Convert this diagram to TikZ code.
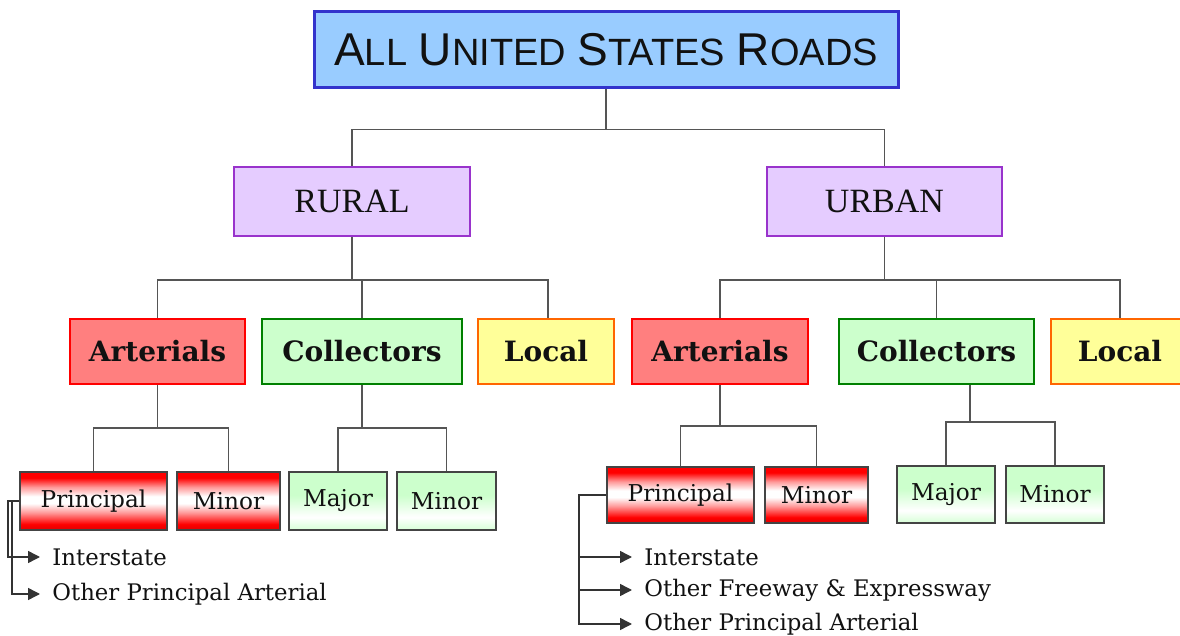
\documentclass[tikz,border=0pt]{standalone}
\usepackage{fontspec}
\setmainfont{DejaVu Serif}
\newfontfamily\titlefont{Liberation Sans}
\newfontfamily\rufont{Liberation Serif}
\usetikzlibrary{arrows.meta}
\definecolor{titleblue}{HTML}{99CCFF}
\definecolor{titleborder}{HTML}{3333CC}
\definecolor{areafill}{HTML}{E5CCFF}
\definecolor{areaborder}{HTML}{9933CC}
\definecolor{artfill}{HTML}{FF7F7F}
\definecolor{colfill}{HTML}{CCFFCC}
\definecolor{colborder}{HTML}{008000}
\definecolor{locfill}{HTML}{FFFF99}
\definecolor{locborder}{HTML}{FF6600}
\definecolor{linegray}{HTML}{555555}
\definecolor{arrgray}{HTML}{333333}
\definecolor{subborder}{HTML}{444444}
\definecolor{txt}{HTML}{111111}
\definecolor{deepred}{HTML}{E00000}
\pgfdeclareverticalshading{redband}{100bp}{color(0bp)=(deepred); color(25bp)=(deepred); color(30bp)=(red); color(40bp)=(red!40!white); color(48bp)=(white); color(54bp)=(white); color(62bp)=(red!40!white); color(70bp)=(red); color(100bp)=(red)}
\pgfdeclareverticalshading{greenband}{100bp}{color(0bp)=(colfill!80!white); color(25bp)=(colfill!80!white); color(36bp)=(white); color(55bp)=(colfill); color(100bp)=(colfill)}
\newcommand\TBig[1]{{\fontsize{23}{26}\selectfont #1}}
\newcommand\TSmall[1]{{\fontsize{19}{22}\selectfont #1}}
\begin{document}
\begin{tikzpicture}[x=0.5pt,y=-0.5pt,
  tree/.style={draw=linegray, line width=0.75pt},
  arr/.style={draw=arrgray, line width=0.75pt, -{Triangle[length=6pt,width=6pt]}},
  box/.style={rectangle, inner sep=0pt, align=center, text=txt},
  topbox/.style={box, fill=titleblue, draw=titleborder, line width=1.5pt, minimum width=292pt, minimum height=38pt, font=\titlefont\fontsize{21}{24}\selectfont},
  area/.style={box, fill=areafill, draw=areaborder, line width=1.2pt, minimum width=118pt, minimum height=34.5pt, font=\rufont\fontsize{17}{20}\selectfont},
  cat/.style={box, line width=1.2pt, minimum height=32.5pt, font=\bfseries\fontsize{14}{16}\selectfont},
  art/.style={cat, fill=artfill, draw=red},
  col/.style={cat, fill=colfill, draw=colborder},
  loc/.style={cat, fill=locfill, draw=locborder},
  sub/.style={box, draw=subborder, line width=1pt, minimum height=29pt, font=\fontsize{11.6}{13}\selectfont},
  redsub/.style={sub, shading=redband},
  greensub/.style={sub, shading=greenband},
  item/.style={anchor=west, inner xsep=6pt, inner ysep=0pt, text=txt, font=\fontsize{11.4}{13}\selectfont}
]
\useasboundingbox (0,0) rectangle (1180,636);
\clip (0,0) rectangle (1180,636);

\node[topbox] (root) at (606,50) {\TBig{A}\TSmall{LL} \TBig{U}\TSmall{NITED} \TBig{S}\TSmall{TATES} \TBig{R}\TSmall{OADS}};

\node[area] (rural) at (352,201.5) {RURAL};
\node[area, minimum width=117.5pt] (urban) at (884.5,201.5) {URBAN};

\node[art, minimum width=87.5pt] (rart) at (157.5,351.5) {Arterials};
\node[col, minimum width=100pt] (rcol) at (362,351.5) {Collectors};
\node[loc, minimum width=68pt] (rloc) at (546,351.5) {Local};
\node[art, minimum width=88pt] (uart) at (720,351.5) {Arterials};
\node[col, minimum width=97.5pt] (ucol) at (936.5,351.5) {Collectors};
\node[loc, minimum width=69pt] (uloc) at (1120,351.5) {Local};

\node[redsub, minimum width=73.5pt] (rprin) at (93.5,501) {Principal};
\node[redsub, minimum width=51.5pt] (rmin) at (228.5,501) {Minor};
\node[greensub, minimum width=49pt] (rmaj) at (338,501) {Major};
\node[greensub, minimum width=49.5pt] (rmin2) at (446.5,501) {Minor};

\node[redsub, minimum width=73.5pt, minimum height=28pt] (uprin) at (680.5,495) {Principal};
\node[redsub, minimum width=51.5pt, minimum height=28pt] (umin) at (816.5,495) {Minor};
\node[greensub, minimum width=49pt, minimum height=28.5pt] (umaj) at (946,494.5) {Major};
\node[greensub, minimum width=49pt, minimum height=28.5pt] (umin2) at (1055,494.5) {Minor};

\node[item] (rint) at (40,557) {Interstate};
\node[item] (roth) at (40,594) {Other Principal Arterial};
\node[item] (uint) at (632,557) {Interstate};
\node[item] (ufwy) at (632,590) {Other Freeway \& Expressway};
\node[item] (uoth) at (632,624) {Other Principal Arterial};

\draw[tree] (root.south) -- ++(0,40) -| (rural.north);
\draw[tree] (root.south) -- ++(0,40) -| (urban.north);

\draw[tree] (rural.south) -- ++(0,43) -| (rart.north);
\draw[tree] (rural.south) -- ++(0,43) -| (rcol.north);
\draw[tree] (rural.south) -- ++(0,43) -| ([xshift=1pt]rloc.north);
\draw[tree] (urban.south) -- ++(0,43) -| (uart.north);
\draw[tree] (urban.south) -- ++(0,43) -| (ucol.north);
\draw[tree] (urban.south) -- ++(0,43) -| (uloc.north);

\draw[tree] (rart.south) -- ++(0,43) -| (rprin.north);
\draw[tree] (rart.south) -- ++(0,43) -| (rmin.north);
\draw[tree] (rcol.south) -- ++(0,43) -| (rmaj.north);
\draw[tree] (rcol.south) -- ++(0,43) -| (rmin2.north);
\draw[tree] (uart.south) -- ++(0,41) -| (uprin.north);
\draw[tree] (uart.south) -- ++(0,41) -| (umin.north);
\draw[tree] ([xshift=16.75pt]ucol.south) -- ++(0,37) -| (umaj.north);
\draw[tree] ([xshift=16.75pt]ucol.south) -- ++(0,37) -| (umin2.north);

\draw[arr] (rprin.west) -- ++(-11,0) |- (rint.west);
\draw[arr] ([xshift=-3.5pt]rprin.west) |- (roth.west);
\draw[arr] (uprin.west) -- ++(-27,0) |- (uint.west);
\draw[arr] ([xshift=-13.5pt]uprin.west) |- (ufwy.west);
\draw[arr] ([xshift=-13.5pt]uprin.west) |- (uoth.west);
\end{tikzpicture}
\end{document}
